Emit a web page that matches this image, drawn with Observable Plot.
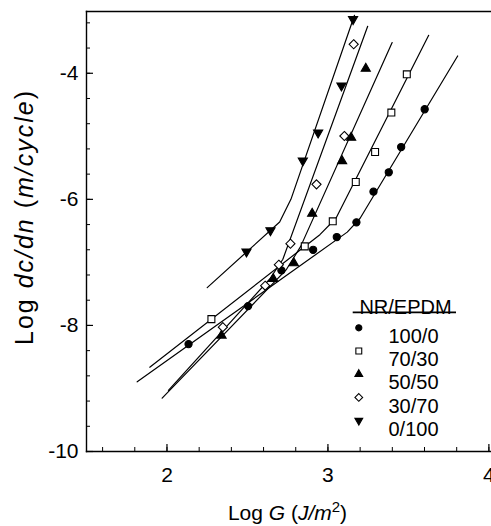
<!DOCTYPE html>
<html><head><meta charset="utf-8">
<script src="https://cdn.jsdelivr.net/npm/d3@7"></script>
<script src="https://cdn.jsdelivr.net/npm/@observablehq/plot@0.6"></script>
<style>body{margin:0;background:#fff} svg{display:block}</style>
</head><body><div id="chart"></div>
<script>
// ---- data ----
const series = ["100/0", "70/30", "50/50", "30/70", "0/100"];
const symbols = ["circle", "square", "triangle", "diamond2", "triangle"];
const fills = ["black", "white", "black", "white", "black"];
const rotations = [0, 0, 0, 0, 180];

// measured points (Log G, Log dc/dn)
const x100 = [2.134, 2.504, 2.711, 2.908, 3.055, 3.177, 3.283, 3.378, 3.455, 3.601];
const y100 = [-8.296, -7.693, -7.127, -6.80, -6.598, -6.365, -5.878, -5.571, -5.17, -4.571];
const x70 = [2.276, 2.856, 3.030, 3.173, 3.293, 3.394, 3.490];
const y70 = [-7.90, -6.746, -6.349, -5.725, -5.249, -4.624, -4.016];
const x50 = [2.339, 2.66, 2.788, 2.902, 3.088, 3.144, 3.235];
const y50 = [-8.159, -7.26, -7.011, -6.227, -5.392, -5.02, -3.925];
const x30 = [2.347, 2.61, 2.695, 2.767, 2.929, 3.102, 3.160];
const y30 = [-8.027, -7.37, -7.037, -6.704, -5.762, -4.995, -3.54];
const x0 = [2.494, 2.643, 2.844, 2.939, 3.084, 3.156];
const y0 = [-6.83, -6.492, -5.386, -4.942, -4.196, -3.143];

// fitted two-regime lines (vertices)
const fit100x = [1.815, 3.12, 3.20, 3.806];
const fit100y = [-8.894, -6.52, -6.30, -3.725];
const fit70x = [1.893, 2.95, 3.05, 3.626];
const fit70y = [-8.662, -6.56, -6.30, -3.397];
const fit50x = [1.970, 2.74, 2.83, 3.399];
const fit50y = [-9.154, -7.12, -6.75, -3.513];
const fit30x = [2.009, 2.64, 2.72, 3.247];
const fit30y = [-9.03, -7.26, -6.95, -3.254];
const fit0x = [2.25, 2.70, 2.77, 3.165];
const fit0y = [-7.40, -6.36, -6.00, -3.08];

const xMajor = [2, 3, 4];
const yMajor = [-10, -8, -6, -4];
const legendTitle = "NR/EPDM";
const xTitle = ["Log ", "G", " (", "J/m", "2", ")"];
const yTitle = ["Log ", "dc/dn", " (", "m/cycle", ")"];

// ---- build tables ----
const ptsX = [x100, x70, x50, x30, x0];
const ptsY = [y100, y70, y50, y30, y0];
const fitX = [fit100x, fit70x, fit50x, fit30x, fit0x];
const fitY = [fit100y, fit70y, fit50y, fit30y, fit0y];

const points = [];
const fits = [];
series.forEach((s, k) => {
  ptsX[k].forEach((x, i) => points.push({series: s, k, x, y: ptsY[k][i]}));
  fitX[k].forEach((x, i) => fits.push({series: s, k, x, y: fitY[k][i]}));
});

const xMinor = d3.range(8, 21).map(d => +(d * 0.2).toFixed(1));
const yMinor = d3.range(-25, -7).map(d => +(d * 0.4).toFixed(1));

const sizes = [3.6, 3.9, 3.4, 4.1, 3.4];
const FONT = "Liberation Sans, Arial, Helvetica, sans-serif";
const FS = 21;

const marks = [];
marks.push(Plot.line(fits, {x: "x", y: "y", z: "series", stroke: "black", strokeWidth: 1.2}));
series.forEach((s, k) => {
  marks.push(Plot.dot(points.filter(d => d.k === k), {
    x: "x", y: "y", symbol: () => symbols[k], r: sizes[k],
    fill: fills[k], stroke: "black", strokeWidth: 1.1, rotate: rotations[k]
  }));
});
// axes: minor ticks, major ticks inward, labels
marks.push(Plot.axisX({ticks: xMinor, tickSize: -4, fill: "none", label: null, strokeWidth: 1}));
marks.push(Plot.axisX({ticks: xMajor, tickSize: -7, fill: "none", label: null, strokeWidth: 1.2}));
marks.push(Plot.axisX({ticks: xMajor, tickSize: 0, tickPadding: 16, label: null, tickFormat: d => `${d}`, fontSize: FS, fill: "black"}));
marks.push(Plot.axisY({ticks: yMinor, tickSize: -4, fill: "none", label: null, strokeWidth: 1}));
marks.push(Plot.axisY({ticks: yMajor, tickSize: -7, fill: "none", label: null, strokeWidth: 1.2}));
marks.push(Plot.axisY({ticks: yMajor, tickSize: 0, tickPadding: 8, label: null, tickFormat: d => `${d}`, fontSize: FS, fill: "black"}));
marks.push(Plot.frame({anchor: "left", stroke: "black", strokeWidth: 1.4}));
marks.push(Plot.frame({anchor: "top", stroke: "black", strokeWidth: 1.4}));
marks.push(Plot.frame({anchor: "bottom", stroke: "black", strokeWidth: 1.4}));

// legend (positioned relative to the plot frame)
marks.push(Plot.text([legendTitle], {frameAnchor: "top-left", dx: 319, dy: 288, text: d => d, textAnchor: "middle", fontSize: 20, fill: "black"}));
series.forEach((s, k) => {
  marks.push(Plot.dot([s], {frameAnchor: "top-left", dx: 272.3, dy: 316.3 + k * 23.2,
    symbol: () => symbols[k], r: sizes[k] * 0.85, fill: fills[k], stroke: "black", strokeWidth: 1.1, rotate: rotations[k]}));
  marks.push(Plot.text([s], {frameAnchor: "top-left", dx: 327, dy: 317.3 + k * 23.2, text: d => d, textAnchor: "middle", fontSize: 20, fill: "black"}));
});

const chart = Plot.plot({
  width: 491, height: 526,
  marginLeft: 86, marginRight: 1, marginTop: 11, marginBottom: 75,
  style: {fontFamily: FONT, fontSize: FS + "px", background: "white", color: "black"},
  x: {domain: [1.5, 4.01]},
  y: {domain: [-10, -3.02]},
  marks
});

const svg = d3.select(chart);
// legend underline
svg.append("line").attr("x1", 352.7).attr("x2", 456).attr("y1", 312.3).attr("y2", 312.3)
  .attr("stroke", "black").attr("stroke-width", 1.8);
// x title
const xt = svg.append("text").attr("x", 287.5).attr("y", 520).attr("text-anchor", "middle")
  .attr("font-family", FONT).attr("font-size", 21).attr("fill", "black");
xt.append("tspan").text(xTitle[0]);
xt.append("tspan").attr("font-style", "italic").text(xTitle[1]);
xt.append("tspan").text(xTitle[2]);
xt.append("tspan").attr("font-style", "italic").text(xTitle[3]);
xt.append("tspan").attr("font-size", 15).attr("dy", -8).text(xTitle[4]);
xt.append("tspan").attr("dy", 8).text(xTitle[5]);
// y title
const yt = svg.append("text").attr("transform", "translate(33,218) rotate(-90)").attr("text-anchor", "middle")
  .attr("font-family", FONT).attr("font-size", 25).attr("fill", "black")
  .attr("textLength", 254).attr("lengthAdjust", "spacing");
yt.append("tspan").text(yTitle[0]);
yt.append("tspan").attr("font-style", "italic").text(yTitle[1]);
yt.append("tspan").text(yTitle[2]);
yt.append("tspan").attr("font-style", "italic").text(yTitle[3]);
yt.append("tspan").text(yTitle[4]);

document.getElementById("chart").append(chart);
</script>
</body></html>
